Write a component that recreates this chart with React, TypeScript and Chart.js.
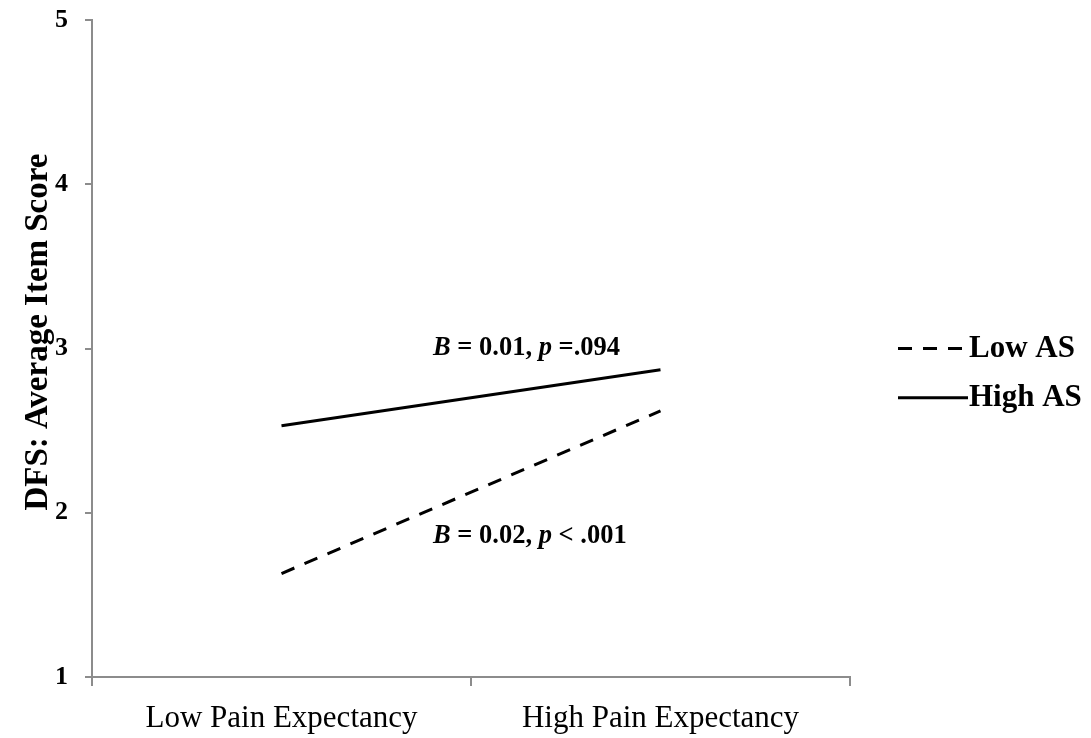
import React, { useEffect, useRef } from 'react';
import { Chart, registerables } from 'chart.js';

Chart.register(...registerables);

const categories = ['Low Pain Expectancy', 'High Pain Expectancy'];
const seriesNames = ['Low AS', 'High AS'];
const lowAS = [1.63, 2.62];
const highAS = [2.53, 2.87];
const yTickValues = [1, 2, 3, 4, 5];
const yTitle = 'DFS: Average Item Score';
// annotation text pieces: [text, italic]
const annotationHigh: [string, boolean][] = [['B', true], [' = 0.01, ', false], ['p', true], [' =.094', false]];
const annotationLow: [string, boolean][] = [['B', true], [' = 0.02, ', false], ['p', true], [' < .001', false]];

const SERIF = '"Liberation Serif", "Times New Roman", serif';
const AXIS_GREY = '#8c8c8c';

function drawParts(ctx: CanvasRenderingContext2D, parts: [string, boolean][], x: number, y: number, size: number) {
  let cx = x;
  ctx.textBaseline = 'middle';
  ctx.textAlign = 'left';
  for (const [t, it] of parts) {
    ctx.font = `${it ? 'italic ' : ''}bold ${size}px ${SERIF}`;
    ctx.fillText(t, cx, y);
    cx += ctx.measureText(t).width;
  }
}

const overlayPlugin = {
  id: 'overlay',
  afterDraw(chart: any) {
    const ctx: CanvasRenderingContext2D = chart.ctx;
    const xs = chart.scales.x;
    const ys = chart.scales.y;
    ctx.save();
    ctx.fillStyle = '#000';

    // y-axis title
    ctx.save();
    ctx.translate(38, ys.getPixelForValue(3.1));
    ctx.rotate(-Math.PI / 2);
    ctx.font = `bold 33px ${SERIF}`;
    ctx.textAlign = 'center';
    ctx.textBaseline = 'middle';
    ctx.fillText(yTitle, 0, 0);
    ctx.restore();

    // annotations
    const mid = xs.getPixelForValue(0.5);
    drawParts(ctx, annotationHigh, mid - 38, ys.getPixelForValue(3.0), 26.5);
    drawParts(ctx, annotationLow, mid - 38, ys.getPixelForValue(1.86), 26.5);

    // legend
    const lx0 = xs.right + 48;
    const lx1 = xs.right + 118;
    const rows = [ys.getPixelForValue(3.0), ys.getPixelForValue(2.7)];
    chart.data.datasets.forEach((ds: any, i: number) => {
      const y = rows[i];
      ctx.save();
      ctx.strokeStyle = ds.borderColor;
      ctx.lineWidth = ds.borderWidth;
      ctx.setLineDash(ds.borderDash || []);
      ctx.beginPath();
      ctx.moveTo(lx0, y);
      ctx.lineTo(lx1, y);
      ctx.stroke();
      ctx.restore();
      ctx.font = `bold 31px ${SERIF}`;
      ctx.textAlign = 'left';
      ctx.textBaseline = 'middle';
      ctx.fillText(ds.label, lx1 + 1, y);
    });
    ctx.restore();
  },
};

export default function App() {
  const ref = useRef<HTMLCanvasElement>(null);
  useEffect(() => {
    if (!ref.current) return;
    const chart = new Chart(ref.current, {
      type: 'line',
      data: {
        labels: categories,
        datasets: [
          {
            label: seriesNames[0],
            data: lowAS,
            borderColor: '#000',
            borderWidth: 3,
            borderDash: [14, 11],
            pointRadius: 0,
            fill: false,
            tension: 0,
          },
          {
            label: seriesNames[1],
            data: highAS,
            borderColor: '#000',
            borderWidth: 3,
            pointRadius: 0,
            fill: false,
            tension: 0,
          },
        ],
      },
      options: {
        responsive: false,
        animation: false,
        layout: { padding: { top: 20, right: 241, bottom: 0, left: 0 } },
        plugins: { legend: { display: false }, tooltip: { enabled: false } },
        scales: {
          x: {
            type: 'category',
            offset: true,
            grid: {
              display: true,
              drawOnChartArea: false,
              drawTicks: true,
              tickLength: 9,
              offset: true,
              color: AXIS_GREY,
              lineWidth: 2,
            },
            border: { display: true, color: AXIS_GREY, width: 2 },
            ticks: {
              color: '#000',
              padding: 14,
              maxRotation: 0,
              font: { family: SERIF, size: 31, weight: 'normal' },
            },
            afterFit: (s: any) => {
              s.height = 61;
              s.paddingLeft = 0;
              s.paddingRight = 0;
            },
          },
          y: {
            min: 1,
            max: 5,
            afterBuildTicks: (s: any) => {
              s.ticks = yTickValues.map((v) => ({ value: v }));
            },
            grid: {
              display: true,
              drawOnChartArea: false,
              drawTicks: true,
              tickLength: 7,
              color: AXIS_GREY,
              lineWidth: 2,
            },
            border: { display: true, color: AXIS_GREY, width: 2 },
            ticks: {
              color: '#000',
              padding: 17,
              font: { family: SERIF, size: 26, weight: 'bold' },
            },
            afterFit: (s: any) => {
              s.width = 92;
              s.paddingTop = 0;
              s.paddingBottom = 0;
            },
          },
        },
      },
      plugins: [overlayPlugin],
    });
    return () => chart.destroy();
  }, []);
  return (
    <div style={{ position: 'absolute', left: 0, top: 0, width: 1091, height: 738, background: '#fff' }}>
      <canvas ref={ref} width={1091} height={738} />
    </div>
  );
}
